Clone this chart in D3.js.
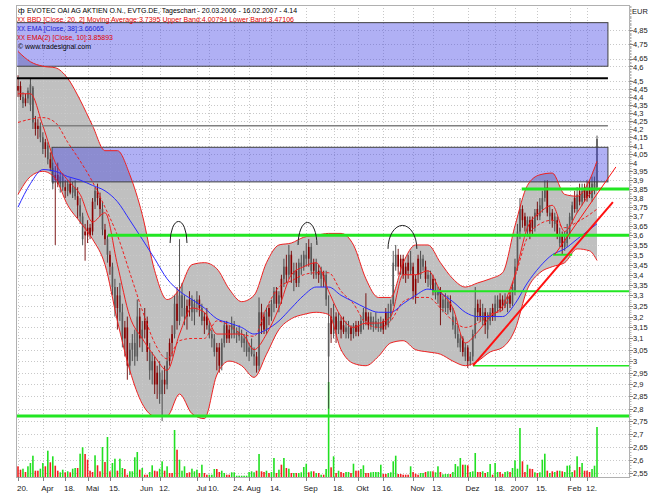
<!DOCTYPE html>
<html><head><meta charset="utf-8">
<script src="https://cdn.jsdelivr.net/npm/d3@7"></script>
<style>body{margin:0;background:#fff}svg{display:block}text{font-family:"Liberation Sans",Arial,sans-serif}</style>
</head><body><svg id="c" width="666" height="499"></svg>
<script>
// ---------- DATA ----------
const holidays = ["2006-04-14","2006-04-17","2006-05-01","2006-12-25","2006-12-26","2007-01-01"];
const opens = [4.47,4.47,4.36,4.39,4.39,4.35,4.24,4.24,4.22,4.15,4.08,4.12,4.02,4.02,3.88,3.93,3.93,3.88,3.86,3.86,3.84,3.88,3.83,3.81,3.81,3.70,3.58,3.62,3.64,3.64,3.78,3.78,3.84,3.80,3.63,3.63,3.50,3.50,3.34,3.24,3.30,3.22,3.10,3.15,3.15,2.98,3.05,3.02,3.02,3.20,3.10,3.18,3.18,2.96,2.96,3.00,2.95,2.86,2.86,2.92,2.90,3.08,3.12,3.12,3.26,3.18,3.24,3.20,3.25,3.28,3.22,3.22,3.26,3.28,3.18,3.20,3.20,3.12,3.10,3.04,3.06,3.06,2.98,3.08,3.16,3.14,3.14,3.12,3.12,3.11,3.08,3.08,3.04,3.04,3.03,3.02,3.02,2.98,3.22,3.20,3.14,3.24,3.20,3.26,3.32,3.26,3.38,3.38,3.44,3.40,3.50,3.40,3.42,3.36,3.44,3.44,3.48,3.54,3.42,3.46,3.40,3.42,3.38,3.40,3.28,3.02,3.20,3.12,3.20,3.14,3.18,3.16,3.13,3.12,3.15,3.12,3.16,3.16,3.13,3.18,3.22,3.20,3.16,3.16,3.15,3.15,3.14,3.18,3.22,3.16,3.20,3.26,3.44,3.50,3.48,3.48,3.44,3.46,3.42,3.44,3.38,3.48,3.40,3.44,3.44,3.38,3.35,3.38,3.30,3.30,3.32,3.24,3.24,3.24,3.27,3.16,3.12,3.08,3.06,3.10,3.02,3.06,3.00,3.02,3.12,3.26,3.24,3.18,3.22,3.14,3.18,3.24,3.20,3.24,3.28,3.28,3.25,3.26,3.30,3.26,3.32,3.44,3.62,3.74,3.70,3.62,3.68,3.68,3.64,3.74,3.70,3.74,3.80,3.86,3.70,3.72,3.66,3.68,3.56,3.60,3.54,3.56,3.60,3.68,3.80,3.74,3.84,3.78,3.86,3.84,3.86,3.80,3.84,3.86];
const highs = [4.54,4.50,4.43,4.42,4.46,4.52,4.47,4.28,4.26,4.24,4.18,4.14,4.12,4.06,4.00,3.98,4.00,3.95,3.94,3.90,3.90,3.91,3.89,3.90,3.86,3.80,3.72,3.66,3.68,3.66,3.80,3.86,3.88,3.83,3.78,3.66,3.60,3.52,3.46,3.38,3.34,3.36,3.26,3.18,3.20,3.08,3.12,3.14,3.28,3.24,3.18,3.24,3.20,3.08,3.04,3.02,2.98,3.00,2.96,2.98,3.04,3.10,3.16,3.30,3.34,3.58,3.36,3.30,3.28,3.32,3.30,3.28,3.32,3.30,3.26,3.22,3.24,3.18,3.14,3.12,3.08,3.08,3.10,3.18,3.18,3.16,3.20,3.18,3.15,3.16,3.14,3.12,3.13,3.08,3.10,3.06,3.04,3.29,3.26,3.22,3.24,3.26,3.28,3.34,3.34,3.32,3.40,3.48,3.50,3.55,3.52,3.46,3.46,3.48,3.50,3.52,3.56,3.58,3.56,3.48,3.48,3.45,3.44,3.42,3.42,3.30,3.24,3.26,3.22,3.22,3.20,3.20,3.18,3.18,3.16,3.17,3.18,3.18,3.20,3.24,3.31,3.22,3.22,3.20,3.22,3.19,3.20,3.19,3.24,3.26,3.28,3.52,3.55,3.53,3.50,3.50,3.46,3.50,3.52,3.46,3.40,3.50,3.52,3.50,3.47,3.42,3.42,3.40,3.38,3.34,3.34,3.30,3.31,3.30,3.30,3.24,3.20,3.16,3.12,3.11,3.08,3.07,3.04,3.14,3.34,3.28,3.28,3.26,3.24,3.22,3.24,3.26,3.30,3.30,3.31,3.30,3.31,3.30,3.32,3.36,3.48,3.66,3.80,3.76,3.72,3.70,3.70,3.70,3.74,3.78,3.80,3.84,3.90,3.90,3.76,3.74,3.72,3.70,3.64,3.62,3.62,3.66,3.72,3.78,3.84,3.86,3.88,3.88,3.88,3.90,3.90,3.92,3.92,4.16];
const lows = [4.40,4.38,4.33,4.34,4.36,4.31,4.20,4.16,4.14,4.12,4.05,4.03,3.99,3.95,3.85,3.55,3.86,3.83,3.84,3.80,3.81,3.82,3.80,3.79,3.69,3.66,3.55,3.47,3.56,3.58,3.60,3.74,3.76,3.70,3.60,3.55,3.46,3.40,3.30,3.20,3.14,3.18,3.06,3.02,2.92,2.94,3.00,2.98,3.00,3.06,3.04,3.10,3.00,2.92,2.90,2.86,2.84,2.82,2.75,2.86,2.88,2.98,3.02,3.10,3.14,3.16,3.20,3.16,3.14,3.20,3.18,3.16,3.22,3.20,3.16,3.12,3.14,3.10,3.06,3.02,2.96,2.95,2.96,3.06,3.08,3.08,3.10,3.10,3.08,3.09,3.06,3.04,3.02,3.00,3.02,2.98,2.95,2.96,3.12,3.12,3.12,3.16,3.18,3.22,3.24,3.22,3.26,3.34,3.36,3.38,3.36,3.32,3.34,3.34,3.40,3.42,3.44,3.44,3.40,3.38,3.38,3.36,3.34,3.34,3.25,2.80,3.08,3.10,3.08,3.12,3.10,3.12,3.10,3.10,3.09,3.10,3.11,3.11,3.12,3.14,3.16,3.14,3.14,3.13,3.14,3.13,3.13,3.12,3.14,3.15,3.18,3.25,3.42,3.40,3.40,3.38,3.36,3.38,3.40,3.28,3.26,3.36,3.38,3.42,3.36,3.34,3.33,3.30,3.28,3.26,3.16,3.22,3.22,3.21,3.22,3.14,3.10,3.06,3.04,3.02,3.00,2.97,2.98,3.00,3.10,3.18,3.18,3.16,3.12,3.10,3.16,3.18,3.18,3.22,3.22,3.23,3.24,3.22,3.24,3.25,3.30,3.42,3.58,3.64,3.62,3.60,3.58,3.60,3.62,3.68,3.68,3.72,3.78,3.70,3.66,3.64,3.62,3.58,3.54,3.50,3.52,3.54,3.58,3.66,3.72,3.72,3.76,3.76,3.78,3.78,3.80,3.78,3.82,3.84];
const closes = [4.44,4.40,4.40,4.36,4.44,4.48,4.46,4.20,4.20,4.22,4.15,4.08,4.10,3.97,3.97,3.90,3.88,3.92,3.92,3.84,3.88,3.83,3.86,3.86,3.76,3.76,3.70,3.60,3.60,3.60,3.62,3.84,3.80,3.74,3.74,3.58,3.58,3.44,3.44,3.34,3.24,3.30,3.22,3.10,2.98,3.05,3.08,3.08,3.20,3.10,3.14,3.14,3.04,3.04,3.00,2.90,2.90,2.95,2.92,2.90,3.00,3.00,3.08,3.26,3.18,3.30,3.30,3.24,3.20,3.25,3.28,3.26,3.28,3.24,3.24,3.18,3.16,3.16,3.12,3.10,3.04,2.98,3.08,3.16,3.10,3.10,3.16,3.16,3.13,3.13,3.11,3.10,3.10,3.06,3.06,3.03,2.98,3.22,3.16,3.14,3.22,3.20,3.26,3.32,3.26,3.30,3.29,3.44,3.40,3.50,3.40,3.42,3.36,3.46,3.46,3.50,3.50,3.48,3.54,3.42,3.46,3.40,3.42,3.38,3.40,3.17,3.12,3.20,3.14,3.18,3.14,3.13,3.15,3.15,3.12,3.16,3.13,3.13,3.18,3.22,3.18,3.16,3.20,3.18,3.18,3.17,3.17,3.14,3.16,3.22,3.26,3.46,3.50,3.44,3.44,3.40,3.40,3.42,3.46,3.32,3.30,3.40,3.48,3.48,3.38,3.40,3.40,3.32,3.36,3.32,3.24,3.28,3.28,3.27,3.23,3.20,3.16,3.12,3.10,3.04,3.06,3.00,3.02,3.12,3.24,3.22,3.20,3.22,3.16,3.20,3.22,3.20,3.26,3.28,3.24,3.25,3.28,3.29,3.26,3.34,3.44,3.62,3.74,3.68,3.65,3.68,3.62,3.64,3.72,3.70,3.76,3.80,3.86,3.72,3.72,3.68,3.70,3.60,3.60,3.54,3.58,3.62,3.70,3.76,3.74,3.82,3.78,3.84,3.80,3.80,3.82,3.88,3.88,4.14];
const volumes = [10.7,7.3,8.3,5,10.7,14,21.3,6.3,6.3,8.3,14,10.7,26.3,14.7,20.7,11.3,6.3,4.7,7.3,4.7,5.7,4.7,8.3,9,9,23.3,29.7,23,17.3,6.3,5,21.7,11.7,5.7,30,15,40,5.7,14,18.3,6.3,18.3,9,8,2.3,5.7,5.7,19.7,25,7.3,9,2.3,2.3,5,11.7,6.3,5.7,8.3,15.7,6.3,10.7,4,4,47,27.3,17.3,6.3,10.7,4,4.7,8.3,5.7,7.3,4,12.3,4,2.3,2.3,2.3,8,8,5,6.3,4,2.3,2.3,4.7,4.7,1.3,1.3,1.3,1.3,1.3,5,5.7,4.7,6.3,23,5.7,5,6.3,4,5,19,4,7.3,12.3,19,9,8.3,4,4,4,4,4.7,10,13.3,4.7,5.7,5.7,4,4,2.3,2.3,8,95,9.7,
 20.7,4,6.3,5,4,5,5,4,13.3,6.3,6.3,8,11.7,4,4,4.7,5,5,5,12.3,3,3,4,4.7,15.7,21.3,3,3,2.3,2.3,2.3,10.7,5,3.3,2.3,4,4,5,5.7,5.7,5.7,4.7,10.7,5,2.7,3,3,3,5,13,10.7,19,12.3,12.3,11.7,5,5.7,24,5,5,5.7,4,5,13,2.3,14,5,5,3,5,5.7,5,9,16.7,8.3,49,15.7,5,12.3,8.3,8,4.7,4,4.7,17.3,23.3,6.3,4,5.7,5,6.3,6.3,5.7,5,11.3,11.7,5,6.7,20.7,10,14,6.3,6.3,5,8,11.3,50];
// indicator readings, every 5th session
const bandIdx = [0,5,10,15,20,25,30,35,40,45,50,55,60,65,70,75,80,85,90,95,100,105,110,115,120,125,130,135,140,145,150,155,160,165,170,175,180,185,190,195,200,205,210,215,220,225,230,233];
const bbUpper = [4.70,4.63,4.60,4.59,4.52,4.38,4.22,4.07,4.07,3.93,3.71,3.42,3.28,3.33,3.45,3.46,3.43,3.33,3.27,3.30,3.46,3.55,3.56,3.59,3.60,3.61,3.61,3.55,3.38,3.29,3.29,3.46,3.55,3.55,3.46,3.38,3.34,3.36,3.38,3.41,3.65,3.87,3.93,3.94,3.82,3.81,3.90,4.008];
const bbLower = [3.82,3.92,3.95,3.91,3.76,3.67,3.58,3.45,3.18,2.96,2.82,2.77,2.77,2.86,2.78,2.76,2.94,3.00,2.98,2.93,3.03,3.14,3.19,3.21,3.22,3.21,3.05,2.99,2.98,3.02,3.08,3.09,3.05,3.04,3.03,3.00,2.98,3.00,3.04,3.06,3.14,3.33,3.41,3.44,3.46,3.53,3.52,3.471];
const bbMid = [4.24,4.26,4.27,4.24,4.12,4.01,3.89,3.75,3.60,3.41,3.23,3.08,3.01,3.09,3.10,3.10,3.18,3.16,3.12,3.11,3.24,3.34,3.37,3.40,3.41,3.41,3.32,3.26,3.17,3.15,3.18,3.27,3.29,3.29,3.24,3.18,3.15,3.17,3.21,3.23,3.39,3.59,3.66,3.68,3.64,3.67,3.71,3.7395];
const ema38 = [3.75,3.88,3.96,3.95,3.92,3.90,3.87,3.84,3.78,3.68,3.58,3.48,3.38,3.32,3.28,3.24,3.19,3.17,3.15,3.12,3.14,3.18,3.24,3.30,3.34,3.34,3.30,3.27,3.24,3.22,3.22,3.26,3.30,3.33,3.31,3.27,3.22,3.20,3.20,3.20,3.26,3.36,3.44,3.50,3.53,3.58,3.63,3.6607];
const ema10 = [4.42,4.42,4.22,4.00,3.90,3.82,3.67,3.72,3.45,3.20,3.10,3.02,2.96,3.12,3.24,3.22,3.12,3.12,3.12,3.05,3.12,3.24,3.40,3.44,3.46,3.32,3.20,3.15,3.17,3.17,3.20,3.40,3.40,3.42,3.32,3.24,3.08,3.13,3.20,3.25,3.40,3.64,3.72,3.76,3.62,3.72,3.82,3.859];
const yTicks = [4.85,4.75,4.65,4.6,4.5,4.45,4.4,4.35,4.3,4.25,4.2,4.15,4.1,4.05,4,3.95,3.9,3.85,3.8,3.75,3.7,3.65,3.6,3.55,3.5,3.45,3.4,3.35,3.3,3.25,3.2,3.15,3.1,3.05,3,2.95,2.9,2.85,2.8,2.75,2.7,2.65,2.6,2.55];
const xTickDates = ["2006-03-20","2006-04-03","2006-04-18","2006-05-02","2006-05-15","2006-06-01","2006-06-12","2006-07-03","2006-07-10","2006-07-24","2006-08-01","2006-08-14","2006-09-01","2006-09-18","2006-10-02","2006-10-16","2006-11-01","2006-11-13","2006-12-01","2006-12-18","2007-01-02","2007-01-15","2007-02-01","2007-02-12"];
const xTickLabels = ["20.","Apr","18.","Mai","15.","Jun","12.","Jul","10.","24.","Aug","14.","Sep","18.","Okt","16.","Nov","13.","Dez","18.","2007","15.","Feb","12."];
// drawn annotations (prices, session index ranges)
const zones = [{lo:4.60,hi:4.90,from:-0.8,to:237.4},{lo:3.89,hi:4.09,from:13.7,to:237.4}];
const blackLevels = [{p:4.52,from:-0.8,to:237.4,kind:"black"},{p:4.22,from:9.7,to:237.4,kind:"gray"}];
const greenLevels = [{p:3.60,from:36.2,to:246,kind:"thick"},{p:3.85,from:202.7,to:246,kind:"thick"},{p:3.32,from:166.6,to:246,kind:"mid"},{p:2.98,from:183.1,to:246,kind:"thin"},{p:2.77,from:-0.8,to:246,kind:"thick"},{p:3.50,from:215.3,to:223,kind:"mid"}];
const trendLines = [{i1:183.1,p1:2.98,i2:239.4,p2:3.778,kind:"thick"},{i1:216,p1:3.50,i2:240.6,p2:3.975,kind:"thin"}];
const arcs = [{i:64.6,top:3.673,base:3.56,half:3.4},{i:116.5,top:3.668,base:3.55,half:3.8},{i:154.7,top:3.652,base:3.53,half:5.8}];
const legendLines = [
 {t:"EVOTEC OAI AG AKTIEN O.N., EVTG.DE, Tageschart - 20.03.2006 - 16.02.2007 - 4.14",c:"#000",icon:"ф"},
 {t:"BBD [Close, 20, 2] Moving Average:3.7395 Upper Band:4.00794 Lower Band:3.47106",c:"#e00000",icon:"XX"},
 {t:"EMA [Close, 38]:3.66065",c:"#2020d0",icon:"XX"},
 {t:"EMA(2) [Close, 10]:3.85893",c:"#e00000",icon:"XX"},
 {t:"© www.tradesignal.com",c:"#000",icon:""}];

// ---------- build dates ----------
const dates=[];
(function(){let d=new Date(Date.UTC(2006,2,20));const end=new Date(Date.UTC(2007,1,16));
 while(d<=end){const wd=d.getUTCDay();const s=d.toISOString().slice(0,10);
  if(wd>0&&wd<6&&!holidays.includes(s))dates.push(s);d=new Date(d.getTime()+864e5);}})();
const N=dates.length;
const bars=dates.map((d,i)=>({d,i,o:opens[i],h:highs[i],l:lows[i],c:closes[i],v:volumes[i]}));

// ---------- scales ----------
const P={l:16,r:629,t:5,b:477};
const x=d3.scaleLinear().domain([0,N-1]).range([18,597]);
const y=d3.scaleLog().domain([2.536,5.027]).range([P.b,P.t]);
const vy=d3.scaleLinear().domain([0,95]).range([P.b,382]);
const fmt=v=>String(+v.toFixed(2)).replace(".",",");

const svg=d3.select("#c");
svg.append("defs").append("clipPath").attr("id","clip").append("rect").attr("x",P.l).attr("y",P.t).attr("width",P.r-P.l).attr("height",P.b-P.t);
svg.append("rect").attr("width",666).attr("height",499).attr("fill","#fff");
const g=svg.append("g").attr("clip-path","url(#clip)");

// bollinger fill
const bandPts=bandIdx.map((k,j)=>({k,u:bbUpper[j],lo:bbLower[j],m:bbMid[j],e38:ema38[j],e10:ema10[j]}));
const curve=d3.curveMonotoneX;
g.append("path").datum(bandPts).attr("fill","#c0c0c0")
 .attr("d",d3.area().curve(curve).x(d=>x(d.k)).y0(d=>y(d.lo)).y1(d=>y(d.u)));

// grid
const gridG=g.append("g").attr("stroke","#c8c8c8").attr("stroke-width",1).attr("stroke-dasharray","1,2");
yTicks.forEach(v=>gridG.append("line").attr("x1",P.l).attr("x2",P.r).attr("y1",Math.round(y(v))+0.5).attr("y2",Math.round(y(v))+0.5));
xTickDates.forEach(dd=>{const k=dates.indexOf(dd);const xx=Math.round(x(k))+0.5;gridG.append("line").attr("x1",xx).attr("x2",xx).attr("y1",P.t).attr("y2",P.b);});

// volume
const bw=1.6;
g.append("g").selectAll("rect").data(bars).join("rect")
 .attr("x",d=>x(d.i)-bw/2).attr("width",bw).attr("y",d=>vy(d.v)).attr("height",d=>P.b-vy(d.v))
 .attr("fill",d=>d.c>=d.o?"#22e022":"#f02020");

// candles
const cg=g.append("g");
cg.selectAll("line").data(bars).join("line")
 .attr("x1",d=>x(d.i)).attr("x2",d=>x(d.i)).attr("y1",d=>y(d.h)).attr("y2",d=>y(d.l))
 .attr("stroke",d=>d.c>=d.o?"#404040":"#700000").attr("stroke-width",0.9);
cg.selectAll("rect").data(bars).join("rect")
 .attr("x",d=>x(d.i)-bw/2).attr("width",bw)
 .attr("y",d=>y(Math.max(d.o,d.c))).attr("height",d=>Math.max(1,Math.abs(y(d.o)-y(d.c))))
 .attr("fill",d=>d.c>=d.o?"#5a5a5a":"#8b0000");

// zones
zones.forEach(z=>g.append("rect").attr("x",x(z.from)).attr("width",x(z.to)-x(z.from))
 .attr("y",y(z.hi)).attr("height",y(z.lo)-y(z.hi))
 .attr("fill","#4848e6").attr("fill-opacity",0.43).attr("stroke","#404040").attr("stroke-width",1));

// indicator lines
const line=key=>d3.line().curve(curve).x(d=>x(d.k)).y(d=>y(d[key]));
g.append("path").datum(bandPts).attr("fill","none").attr("stroke","#ee2020").attr("stroke-width",1).attr("d",line("u"));
g.append("path").datum(bandPts).attr("fill","none").attr("stroke","#ee2020").attr("stroke-width",1).attr("d",line("lo"));
g.append("path").datum(bandPts).attr("fill","none").attr("stroke","#ee2020").attr("stroke-width",1).attr("stroke-dasharray","3,2").attr("d",line("m"));
g.append("path").datum(bandPts).attr("fill","none").attr("stroke","#2a2aff").attr("stroke-width",1).attr("d",line("e38"));
g.append("path").datum(bandPts).attr("fill","none").attr("stroke","#ee2020").attr("stroke-width",1).attr("d",line("e10"));

// horizontal levels
blackLevels.forEach(L=>g.append("line").attr("x1",x(L.from)).attr("x2",x(L.to)).attr("y1",y(L.p)).attr("y2",y(L.p))
 .attr("stroke",L.kind==="black"?"#000":"#808080").attr("stroke-width",L.kind==="black"?2:1.5));
greenLevels.forEach(L=>g.append("line").attr("x1",x(L.from)).attr("x2",x(L.to)).attr("y1",y(L.p)).attr("y2",y(L.p))
 .attr("stroke","#22e622").attr("stroke-width",L.kind==="thick"?3:L.kind==="mid"?2:1.5));
trendLines.forEach(T=>g.append("line").attr("x1",x(T.i1)).attr("y1",y(T.p1)).attr("x2",x(T.i2)).attr("y2",y(T.p2))
 .attr("stroke","#ff1010").attr("stroke-width",T.kind==="thick"?2:1));
arcs.forEach(A=>{const x1=x(A.i-A.half),x2=x(A.i+A.half),yb=y(A.base),yt=y(A.top);
 const rx=(x2-x1)/2, ry=yb-yt;
 g.append("path").attr("fill","none").attr("stroke","#202020").attr("stroke-width",1)
  .attr("d",`M${x1},${yb} A${rx},${ry} 0 0 1 ${x2},${yb}`);});

// frame
svg.append("rect").attr("x",P.l+0.5).attr("y",P.t+0.5).attr("width",P.r-P.l).attr("height",P.b-P.t)
 .attr("fill","none").attr("stroke","#b0b0b0");

// y axis
const ax=svg.append("g");
for(let v=2.54; v<=5.02; v+=0.01){const yy=Math.round(y(v))+0.5;if(yy<P.t||yy>P.b)continue;
 ax.append("line").attr("x1",P.r+0.5).attr("x2",P.r+2.5).attr("y1",yy).attr("y2",yy).attr("stroke","#b8b8b8");}
const nudge={"4.65":-1.5,"4.6":1.2};
yTicks.forEach(v=>{const yy=Math.round(y(v))+0.5;
 ax.append("line").attr("x1",P.r+0.5).attr("x2",P.r+4).attr("y1",yy).attr("y2",yy).attr("stroke","#808080");
 ax.append("text").attr("x",P.r+4).attr("y",yy+2.7+(nudge[String(v)]||0)).attr("font-size",7.5).attr("fill","#202020").text(fmt(v));});
ax.append("text").attr("x",P.r+3).attr("y",14).attr("font-size",7.5).attr("fill","#202020").text("EUR");

// x axis
xTickDates.forEach((dd,j)=>{const k=dates.indexOf(dd);const xx=Math.round(x(k))+0.5;
 ax.append("line").attr("x1",xx).attr("x2",xx).attr("y1",P.b).attr("y2",P.b+4).attr("stroke","#808080");
 ax.append("text").attr("x",xx+4).attr("y",491).attr("text-anchor","middle").attr("font-size",8).attr("fill","#202020").text(xTickLabels[j]);});

// legend
const lens=[270,267,77,86,73];
legendLines.forEach((L,j)=>{const by=13+j*9.1;
 if(L.icon==="ф"){svg.append("text").attr("x",18).attr("y",by).attr("font-size",8).attr("fill","#000").text(L.icon);}
 else if(L.icon){svg.append("text").attr("x",17).attr("y",by).attr("font-size",7).attr("fill",L.c).attr("textLength",8).attr("lengthAdjust","spacingAndGlyphs").text(L.icon);}
 const tx=L.icon?27:18;
 svg.append("text").attr("x",tx).attr("y",by).attr("font-size",7.8).attr("fill",L.c)
  .attr("textLength",lens[j]).attr("lengthAdjust","spacingAndGlyphs").text(L.t);});
</script></body></html>
